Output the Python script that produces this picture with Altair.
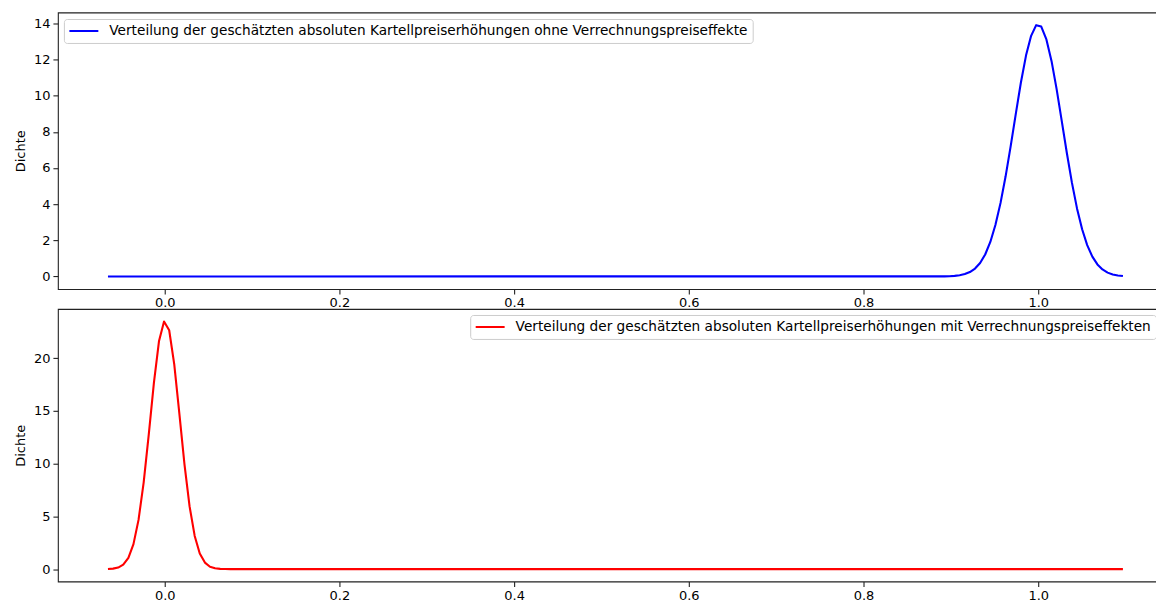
import altair as alt
import pandas as pd

label_top = "Verteilung der geschätzten absoluten Kartellpreiserhöhungen ohne Verrechnungspreiseffekte"
label_bot = "Verteilung der geschätzten absoluten Kartellpreiserhöhungen mit Verrechnungspreiseffekten"

top_x = [-0.0650, 0.8927, 0.8985, 0.9043, 0.9101, 0.9160, 0.9218, 0.9277, 0.9335, 0.9393,
         0.9452, 0.9510, 0.9569, 0.9627, 0.9685, 0.9744, 0.9802, 0.9861, 0.9919, 0.9977,
         1.0035, 1.0094, 1.0153, 1.0211, 1.0269, 1.0328, 1.0386, 1.0445, 1.0503, 1.0561,
         1.0620, 1.0678, 1.0736, 1.0795, 1.0853, 1.0912, 1.0970]
top_y = [0.0, 0.007, 0.015, 0.033, 0.066, 0.131, 0.244, 0.439, 0.747, 1.216,
         1.910, 2.843, 4.07, 5.54, 7.21, 9.01, 10.73, 12.23, 13.31, 13.90,
         13.82, 13.11, 11.91, 10.36, 8.62, 6.83, 5.19, 3.75, 2.61, 1.735,
         1.095, 0.665, 0.387, 0.213, 0.113, 0.057, 0.028]

bot_x = [-0.0650, -0.0592, -0.0533, -0.0475, -0.0416, -0.0358, -0.0300, -0.0241, -0.0183,
         -0.0124, -0.0066, -0.0008, 0.0051, 0.0109, 0.0168, 0.0226, 0.0284, 0.0343, 0.0401,
         0.0460, 0.0518, 0.0576, 0.0635, 0.0693, 0.0751, 1.0970]
bot_y = [0.013, 0.047, 0.151, 0.424, 1.072, 2.37, 4.67, 8.23, 12.76,
         17.67, 21.61, 23.49, 22.66, 19.42, 14.70, 9.94, 5.97, 3.15, 1.49,
         0.62, 0.23, 0.077, 0.022, 0.006, 0.001, 0.0]

x_ticks = [0.0, 0.2, 0.4, 0.6, 0.8, 1.0]
top_ticks = [0, 2, 4, 6, 8, 10, 12, 14]
bot_ticks = [0, 5, 10, 15, 20]

df_top = pd.DataFrame({"x": top_x, "y": top_y, "s": label_top})
df_bot = pd.DataFrame({"x": bot_x, "y": bot_y, "s": label_bot})

W = 1117


def legend(lx, ly):
    return alt.Legend(
        title=None, orient="none", legendX=lx, legendY=ly, symbolType="stroke",
        symbolSize=841, symbolStrokeWidth=2.1, clipHeight=16, labelOffset=9.5,
        padding=4, labelLimit=2000, fillColor="rgba(255,255,255,0.8)",
        strokeColor="#cccccc", cornerRadius=3,
    )


def panel(df, color, ydom, yticks, h, lx, ly):
    return alt.Chart(df).mark_line(strokeWidth=2.1, strokeJoin="round", clip=True).encode(
        x=alt.X("x:Q", scale=alt.Scale(domain=[-0.1223, 1.1543], nice=False, zero=False),
                axis=alt.Axis(values=x_ticks, format=".1f", title=None)),
        y=alt.Y("y:Q", scale=alt.Scale(domain=ydom, nice=False, zero=False),
                axis=alt.Axis(values=yticks, format="d", title="Dichte")),
        color=alt.Color("s:N", scale=alt.Scale(domain=[df["s"][0]], range=[color]),
                        legend=legend(lx, ly)),
    ).properties(width=W, height=h)


top = panel(df_top, "#0000ff", [-0.695, 14.6], top_ticks, 277, 6, 6.5)
bot = panel(df_bot, "#ff0000", [-1.175, 24.675], bot_ticks, 273, 413, 6)

chart = alt.vconcat(top, bot, spacing=20, bounds="flush").resolve_scale(
    x="independent", y="independent", color="independent"
).resolve_legend(color="independent").properties(
    padding={"left": 5, "top": 3, "right": -18, "bottom": -2}
).configure_view(
    stroke="#222222", strokeWidth=1.1
).configure_axis(
    domain=False, grid=False, ticks=True, tickSize=5, tickWidth=1.1, tickColor="#222222",
    labelFont="DejaVu Sans", labelFontSize=13, labelColor="#000000", labelPadding=3,
    titleFont="DejaVu Sans", titleFontSize=13, titleFontWeight="normal", titleColor="#000000",
    titlePadding=6,
).configure_legend(
    labelFont="DejaVu Sans", labelFontSize=13.7, labelColor="#000000",
)

chart.save("out.html", embed_options={"renderer": "svg", "actions": False})
